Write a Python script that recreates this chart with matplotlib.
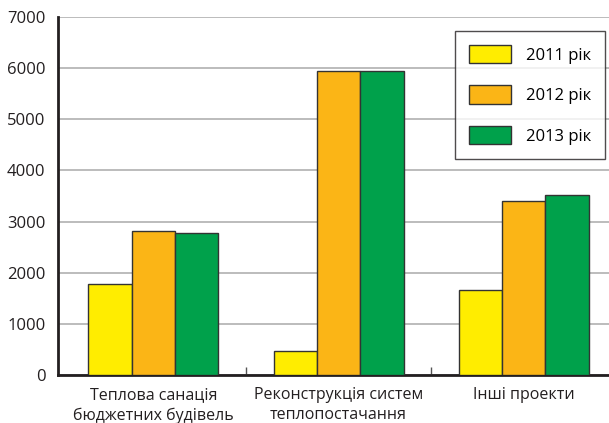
import matplotlib.pyplot as plt
import numpy as np

plt.rcParams['font.family'] = ['Open Sans', 'DejaVu Sans']

categories = ["Теплова санація\nбюджетних будівель",
              "Реконструкція систем\nтеплопостачання",
              "Інші проекти"]
years = ["2011 рік", "2012 рік", "2013 рік"]
values_2011 = [1770, 470, 1670]
values_2012 = [2820, 5950, 3410]
values_2013 = [2780, 5940, 3520]
colors = ["#FFED00", "#FBB516", "#00A14B"]

fig = plt.figure(figsize=(6.09, 4.23), dpi=100)
ax = fig.add_axes([0.095, 0.1135, 0.905, 0.8465])

x = np.arange(len(categories))
w = 0.234
series = [values_2011, values_2012, values_2013]
for i, (vals, lab, col) in enumerate(zip(series, years, colors)):
    ax.bar(x + (i - 1) * w, vals, w, color=col, edgecolor="#333333",
           linewidth=1, label=lab, zorder=3)

ax.set_ylim(0, 7000)
ax.set_xlim(-0.516, 2.46)
ax.set_yticks(range(0, 7001, 1000))
ax.yaxis.grid(True, color="#b0b0b0", linewidth=1.2)
ax.set_axisbelow(True)

ax.set_xticks(x)
ax.set_xticklabels(categories, fontsize=11.5, color="#231f20", linespacing=1.3)
ax.set_xticks([0.5, 1.5], minor=True)
ax.tick_params(axis='x', which='major', length=0, pad=9)
ax.tick_params(axis='x', which='minor', direction='in', length=6,
               width=1, color="#555555")
ax.tick_params(axis='y', length=0, pad=9, labelsize=12, labelcolor="#231f20")

for s in ["top", "right"]:
    ax.spines[s].set_visible(False)
ax.spines["left"].set_linewidth(2)
ax.spines["bottom"].set_linewidth(2)
ax.spines["left"].set_color("#231f20")
ax.spines["bottom"].set_color("#231f20")

leg = ax.legend(loc="upper right", bbox_to_anchor=(0.993, 0.961),
                fontsize=12, frameon=True, fancybox=False,
                edgecolor="#231f20", handlelength=2.5, handleheight=1.32,
                labelspacing=1.3, borderpad=0.85, handletextpad=0.9,
                borderaxespad=0)
leg.get_frame().set_linewidth(1)

fig.savefig("out.png", dpi=100)
